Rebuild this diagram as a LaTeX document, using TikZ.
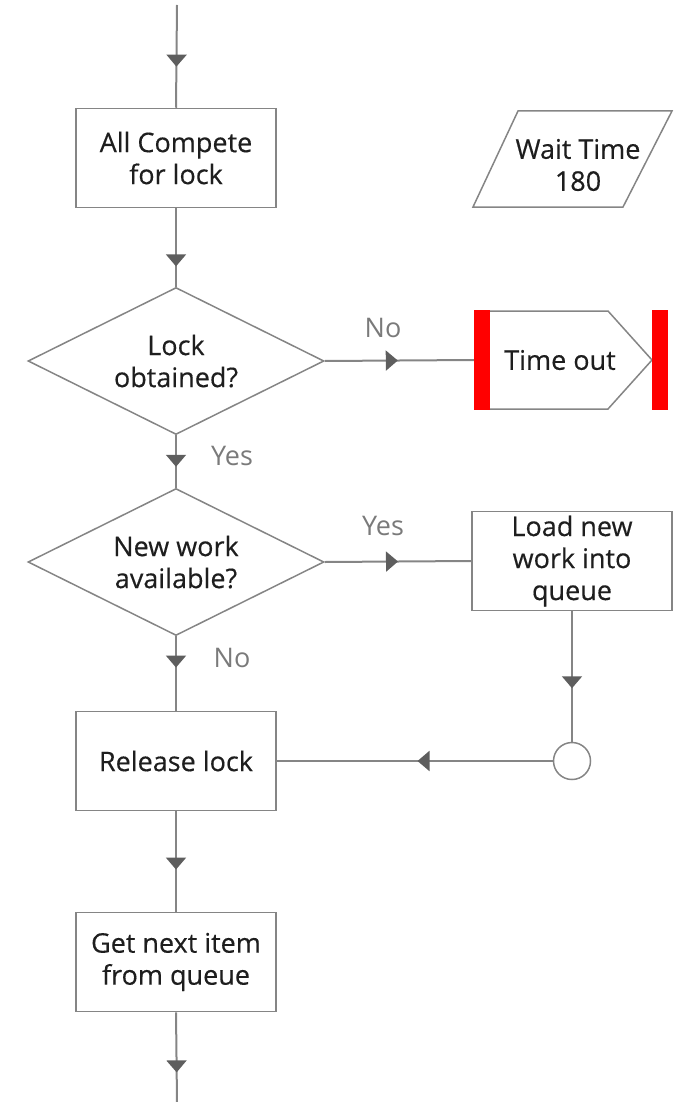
\documentclass[tikz,border=0pt]{standalone}
\usepackage{fontspec}
\setmainfont{Open Sans}
\newfontfamily\medfont{Open Sans}[FakeBold=0.35]
\usetikzlibrary{shapes.geometric,arrows.meta,decorations.markings}
\definecolor{linegray}{HTML}{858585}
\definecolor{arrgray}{HTML}{5E5E5E}
\definecolor{txt}{HTML}{1E1E1E}
\definecolor{lblgray}{HTML}{7A7A7A}
\definecolor{barred}{HTML}{FF0000}
\begin{document}
\begin{tikzpicture}[x=1pt,y=-1pt,
  txtfont/.style={font=\medfont\fontsize{27}{32}\selectfont, text=txt},
  proc/.style={rectangle, draw=linegray, line width=1.5pt, minimum width=200pt, minimum height=99pt, inner sep=0pt, align=center, txtfont},
  dec/.style={diamond, aspect=2, draw=linegray, line width=1.5pt, minimum width=296pt, minimum height=147pt, inner sep=0pt, align=center, txtfont},
  conn/.style={draw=linegray, line width=2pt},
  arr/.style={conn, postaction={decorate}, decoration={markings, mark=at position #1 with {\arrow[color=arrgray]{Triangle[length=12pt,width=20pt]}}}},
  lbl/.style={font=\fontsize{27}{32}\selectfont, text=lblgray, inner sep=0pt}
]
\useasboundingbox (0,0) rectangle (690,1102);

\coordinate (start) at (177,5);
\coordinate (finish) at (177,1102);
\node[proc] (compete) at (176,158) {All Compete\\for lock};
\node[dec] (lockq) at (176,361) {Lock\\obtained?};
\node[dec] (workq) at (176,562) {New work\\available?};
\node[proc] (release) at (176,761) {Release lock};
\node[proc] (getnext) at (176,962) {Get next item\\from queue};
\node[proc] (load) at (572,561) {Load new\\work into\\queue};
\node[circle, draw=linegray, line width=1.5pt, minimum size=37pt, inner sep=0pt] (join) at (572,761) {};

% Wait Time parallelogram
\draw[linegray, line width=1.5pt] (518,111) -- (672,111) -- (623,207) -- (473,207) -- cycle;
\node[txtfont, align=center] (wait) at (578,165) {Wait Time\\180};

% Time out
\node[rectangle, minimum width=194pt, minimum height=100pt, inner sep=0pt] (timeout) at (571,360) {};
\draw[linegray, line width=1.5pt] (490,311) -- (608,311) -- (652,360) -- (608,409) -- (490,409);
\fill[barred] (474,310) rectangle (490,410);
\fill[barred] (652,310) rectangle (668,410);
\node[txtfont] (totext) at (560,360) {Time out};

% connectors
\draw[arr=0.6] (start) -- (compete.north);
\draw[arr=0.74] (compete.south) -- (lockq.north);
\draw[arr=0.6] (lockq.south) -- (workq.north);
\draw[arr=0.42] (workq.south) -- (release.north);
\draw[arr=0.58] (release.south) -- (getnext.north);
\draw[arr=0.67] (getnext.south) -- (finish);
\draw[arr=0.49] (lockq.east) -- (timeout.west);
\draw[arr=0.5] (workq.east) -- (load.west);
\draw[arr=0.59] (load.south) -- (join.north);
\draw[arr=0.49] (join.west) -- (release.east |- join.west);

% labels
\node[lbl] (nolock) at (383,328) {No};
\node[lbl] (yeswork) at (383,526) {Yes};
\node[lbl] (yeslock) at (232,456) {Yes};
\node[lbl] (nowork) at (232,658) {No};
\end{tikzpicture}
\end{document}
